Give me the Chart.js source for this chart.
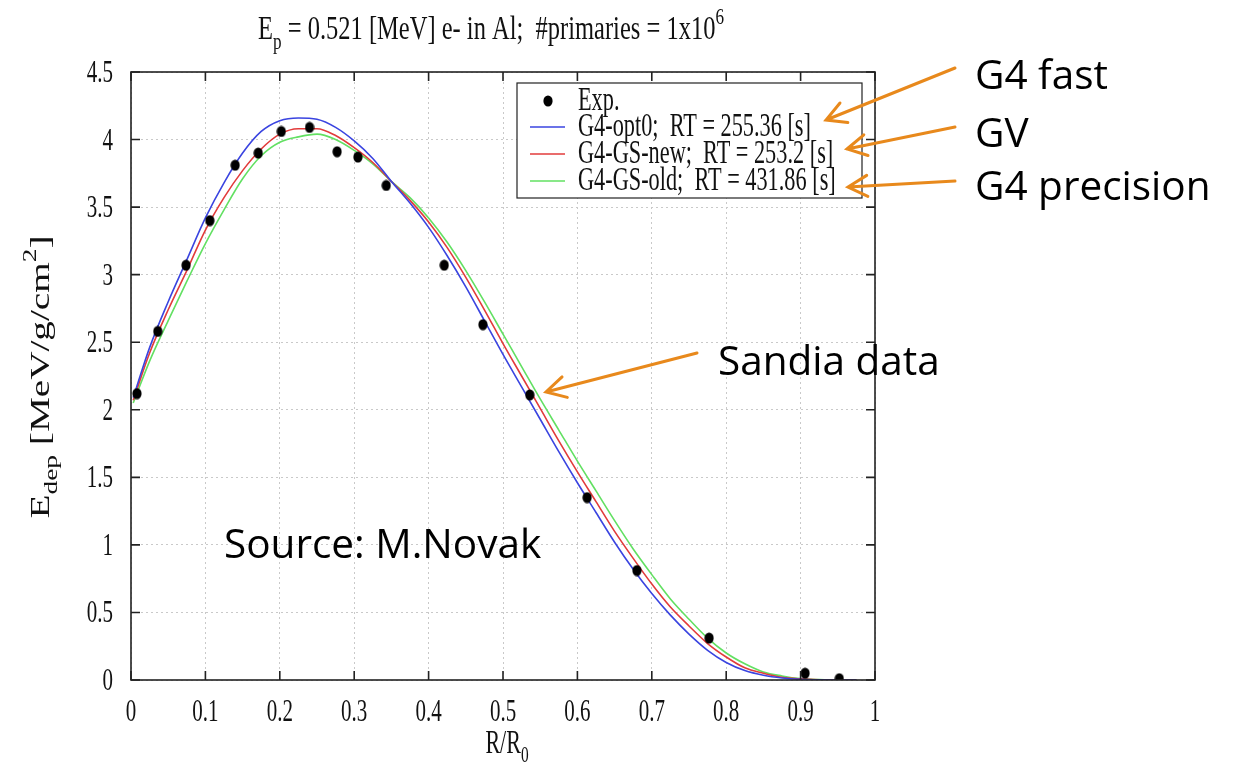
<!DOCTYPE html>
<html lang="en">
<head>
<meta charset="UTF-8">
<title>Edep vs R/R0</title>
<script src="https://cdn.jsdelivr.net/npm/chart.js"></script>
<style>
  html, body { margin: 0; padding: 0; background: #fff; }
  canvas { display: block; }
</style>
</head>
<body>
<canvas id="myChart" width="1243" height="768"></canvas>
<script>
// values
const rCurve = [0.003, 0.025, 0.05, 0.075, 0.1, 0.125, 0.15, 0.175, 0.2, 0.225, 0.25, 0.275, 0.3, 0.325,
  0.35, 0.375, 0.4, 0.425, 0.45, 0.475, 0.5, 0.525, 0.55, 0.575, 0.6, 0.625, 0.65, 0.675, 0.7, 0.725,
  0.75, 0.775, 0.8, 0.825, 0.85, 0.875, 0.9, 0.925, 0.95, 0.975];
const opt0 = [2.09, 2.46, 2.80, 3.11, 3.42, 3.68, 3.90, 4.06, 4.14, 4.16, 4.15, 4.09, 3.99, 3.86,
  3.69, 3.53, 3.35, 3.14, 2.91, 2.66, 2.41, 2.17, 1.93, 1.69, 1.46, 1.24, 1.02, 0.82, 0.64, 0.48,
  0.34, 0.22, 0.13, 0.07, 0.035, 0.015, 0.005, 0.001, 0, 0];
const gsNew = [2.07, 2.42, 2.74, 3.03, 3.33, 3.57, 3.77, 3.93, 4.04, 4.08, 4.08, 4.03, 3.94, 3.83,
  3.69, 3.55, 3.39, 3.20, 2.98, 2.74, 2.49, 2.25, 2.01, 1.77, 1.54, 1.32, 1.10, 0.90, 0.71, 0.54,
  0.40, 0.27, 0.17, 0.09, 0.05, 0.02, 0.008, 0.002, 0, 0];
const gsOld = [2.05, 2.36, 2.66, 2.95, 3.23, 3.48, 3.71, 3.88, 3.98, 4.02, 4.04, 4.00, 3.92, 3.82,
  3.69, 3.57, 3.42, 3.24, 3.03, 2.80, 2.56, 2.32, 2.08, 1.85, 1.62, 1.40, 1.18, 0.97, 0.78, 0.60,
  0.45, 0.31, 0.20, 0.12, 0.06, 0.03, 0.01, 0.003, 0, 0];

const expR = [0.008, 0.036, 0.074, 0.106, 0.140, 0.171, 0.202, 0.240, 0.277, 0.305, 0.343, 0.421,
  0.473, 0.536, 0.613, 0.680, 0.777, 0.906, 0.952];
const expE = [2.12, 2.58, 3.07, 3.40, 3.81, 3.90, 4.06, 4.09, 3.91, 3.87, 3.66, 3.07,
  2.63, 2.11, 1.35, 0.81, 0.31, 0.05, 0.01];

const seriesLabels = ['Exp.', 'G4-opt0;  RT = 255.36 [s]', 'G4-GS-new;  RT = 253.2 [s]', 'G4-GS-old;  RT = 431.86 [s]'];
const xTicks = [0, 0.1, 0.2, 0.3, 0.4, 0.5, 0.6, 0.7, 0.8, 0.9, 1];
const xTickLabels = ['0', '0.1', '0.2', '0.3', '0.4', '0.5', '0.6', '0.7', '0.8', '0.9', '1'];
const yTicks = [0, 0.5, 1, 1.5, 2, 2.5, 3, 3.5, 4, 4.5];
const yTickLabels = ['0', '0.5', '1', '1.5', '2', '2.5', '3', '3.5', '4', '4.5'];

const notes = ['G4 fast', 'GV', 'G4 precision', 'Sandia data', 'Source: M.Novak'];

const SERIF = '"Liberation Serif", "Times New Roman", serif';
const SANS = '"Open Sans", "Noto Sans", sans-serif';
const ORANGE = '#e8891c';

function pts(xs, ys) {
  return xs.map((x, i) => ({ x: x, y: ys[i] }));
}

// tall black dot like the gnuplot marker
const dot = document.createElement('canvas');
dot.width = 10; dot.height = 12;
(function () {
  const c = dot.getContext('2d');
  c.fillStyle = '#000';
  c.beginPath();
  c.ellipse(5, 6, 4.6, 5.6, 0, 0, Math.PI * 2);
  c.fill();
})();

// text helpers (the plot text is tall and narrow, so scale vertically)
function rich(ctx, parts, x, y, size, sy, align, family) {
  ctx.save();
  ctx.translate(x, y);
  ctx.scale(1, sy);
  let w = 0;
  parts.forEach(p => {
    const s = p[1] === 'n' ? size : size * 0.7;
    ctx.font = s + 'px ' + family;
    w += ctx.measureText(p[0]).width;
  });
  let cx = align === 'center' ? -w / 2 : (align === 'right' ? -w : 0);
  ctx.textAlign = 'left';
  ctx.textBaseline = 'alphabetic';
  parts.forEach(p => {
    const s = p[1] === 'n' ? size : size * 0.7;
    ctx.font = s + 'px ' + family;
    let dy = 0;
    if (p[1] === 'sub') dy = size * 0.28;
    if (p[1] === 'sup') dy = -size * 0.45;
    ctx.fillText(p[0], cx, dy);
    cx += ctx.measureText(p[0]).width;
  });
  ctx.restore();
}

function arrow(ctx, x0, y0, x1, y1) {
  const a = Math.atan2(y1 - y0, x1 - x0);
  const L = 22, s = 0.5;
  ctx.beginPath();
  ctx.moveTo(x0, y0);
  ctx.lineTo(x1, y1);
  ctx.moveTo(x1 - L * Math.cos(a - s), y1 - L * Math.sin(a - s));
  ctx.lineTo(x1, y1);
  ctx.lineTo(x1 - L * Math.cos(a + s), y1 - L * Math.sin(a + s));
  ctx.stroke();
}

const decor = {
  id: 'decor',
  afterDraw(chart) {
    const ctx = chart.ctx;
    const a = chart.chartArea;
    const xs = chart.scales.x, ys = chart.scales.y;
    ctx.save();

    // frame and inward ticks
    ctx.strokeStyle = '#222';
    ctx.lineWidth = 1.6;
    ctx.strokeRect(a.left, a.top, a.right - a.left, a.bottom - a.top);
    ctx.beginPath();
    xTicks.forEach(v => {
      const px = xs.getPixelForValue(v);
      ctx.moveTo(px, a.bottom); ctx.lineTo(px, a.bottom - 9);
      ctx.moveTo(px, a.top); ctx.lineTo(px, a.top + 9);
    });
    yTicks.forEach(v => {
      const py = ys.getPixelForValue(v);
      ctx.moveTo(a.left, py); ctx.lineTo(a.left + 9, py);
      ctx.moveTo(a.right, py); ctx.lineTo(a.right - 9, py);
    });
    ctx.stroke();

    // tick labels
    ctx.fillStyle = '#111';
    xTicks.forEach((v, i) => {
      rich(ctx, [[xTickLabels[i], 'n']], xs.getPixelForValue(v), 721, 21, 1.5, 'center', SERIF);
    });
    yTicks.forEach((v, i) => {
      rich(ctx, [[yTickLabels[i], 'n']], 113, ys.getPixelForValue(v) + 10, 21, 1.5, 'right', SERIF);
    });

    // title
    rich(ctx, [['E', 'n'], ['p', 'sub'], [' = 0.521 [MeV] e- in Al;  #primaries = 1x10', 'n'], ['6', 'sup']],
      491, 39, 24.5, 1.4, 'center', SERIF);

    // axis titles
    rich(ctx, [['R/R', 'n'], ['0', 'sub']], 507, 753, 22, 1.5, 'center', SERIF);
    ctx.save();
    ctx.translate(49, 377);
    ctx.rotate(-Math.PI / 2);
    ctx.scale(1.4, 1);
    rich(ctx, [['E', 'n'], ['dep', 'sub'], [' [MeV/g/cm', 'n'], ['2', 'sup'], [']', 'n']], 0, 0, 28, 1, 'center', SERIF);
    ctx.restore();

    // legend box
    const lx = 517, ly = 83, lw = 345, lh = 115;
    ctx.fillStyle = '#fff';
    ctx.fillRect(lx, ly, lw, lh);
    ctx.strokeStyle = '#222';
    ctx.lineWidth = 1.2;
    ctx.strokeRect(lx, ly, lw, lh);
    const rows = [101, 127, 154, 181];
    chart.data.datasets.forEach((ds, i) => {
      const ry = rows[i];
      if (i === 0) {
        ctx.drawImage(dot, 548 - dot.width / 2, ry - dot.height / 2);
      } else {
        ctx.strokeStyle = ds.borderColor;
        ctx.lineWidth = 1.6;
        ctx.beginPath();
        ctx.moveTo(530, ry); ctx.lineTo(565, ry);
        ctx.stroke();
      }
      ctx.fillStyle = '#111';
      rich(ctx, [[ds.label, 'n']], 578, ry + 9, 22.3, 1.55, 'left', SERIF);
    });

    // slide annotations
    ctx.fillStyle = '#000';
    ctx.font = '40.5px ' + SANS;
    ctx.textAlign = 'left';
    ctx.textBaseline = 'alphabetic';
    ctx.fillText(notes[0], 975, 89);
    ctx.fillText(notes[1], 975, 147);
    ctx.fillText(notes[2], 975, 200);
    ctx.fillText(notes[3], 718, 375);
    ctx.fillText(notes[4], 224, 558);

    ctx.strokeStyle = ORANGE;
    ctx.lineWidth = 3;
    ctx.lineCap = 'round';
    arrow(ctx, 955, 68, 826, 120);
    arrow(ctx, 955, 127, 847, 149);
    arrow(ctx, 955, 181, 848, 187);
    arrow(ctx, 697, 353, 546, 392);

    ctx.restore();
  }
};

function createChart() {
  const ctx = document.getElementById('myChart').getContext('2d');
  new Chart(ctx, {
    type: 'line',
    data: {
      datasets: [{
        label: seriesLabels[0],
        data: pts(expR, expE),
        showLine: false,
        pointStyle: dot,
        pointRadius: 5,
        borderColor: '#000',
        backgroundColor: '#000',
        order: 0
      }, {
        label: seriesLabels[1],
        data: pts(rCurve, opt0),
        borderColor: '#3a44e0',
        borderWidth: 1.6,
        pointRadius: 0,
        cubicInterpolationMode: 'monotone',
        order: 1
      }, {
        label: seriesLabels[2],
        data: pts(rCurve, gsNew),
        borderColor: '#e23b3b',
        borderWidth: 1.6,
        pointRadius: 0,
        cubicInterpolationMode: 'monotone',
        order: 2
      }, {
        label: seriesLabels[3],
        data: pts(rCurve, gsOld),
        borderColor: '#62e062',
        borderWidth: 1.6,
        pointRadius: 0,
        cubicInterpolationMode: 'monotone',
        order: 3
      }]
    },
    options: {
      responsive: false,
      animation: false,
      events: [],
      layout: { padding: { top: 72, left: 0, right: 368, bottom: 0 } },
      plugins: { legend: { display: false }, title: { display: false }, tooltip: { enabled: false } },
      scales: {
        x: {
          type: 'linear',
          min: 0,
          max: 1,
          afterBuildTicks: s => { s.ticks = xTicks.map(v => ({ value: v })); },
          afterFit: s => { s.height = 88; },
          ticks: { display: false },
          border: { display: false, dash: [2, 3] },
          grid: { color: '#c9c9c9', lineWidth: 1, drawTicks: false }
        },
        y: {
          min: 0,
          max: 4.5,
          afterBuildTicks: s => { s.ticks = yTicks.map(v => ({ value: v })); },
          afterFit: s => { s.width = 131; },
          ticks: { display: false },
          border: { display: false, dash: [2, 3] },
          grid: { color: '#c9c9c9', lineWidth: 1, drawTicks: false }
        }
      }
    },
    plugins: [decor]
  });
}

document.addEventListener('DOMContentLoaded', createChart);
</script>
</body>
</html>
